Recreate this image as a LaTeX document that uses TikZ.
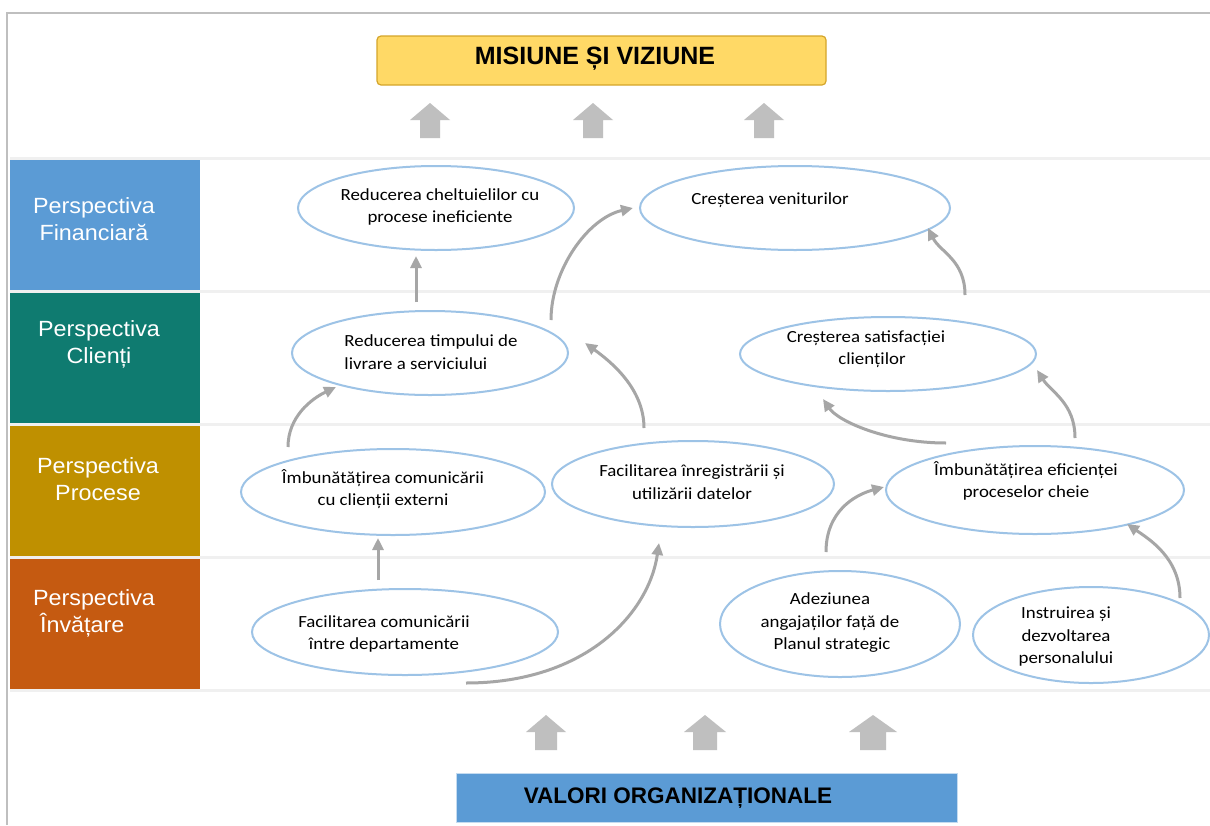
\documentclass[tikz,border=0pt]{standalone}
\usepackage{fontspec}
\setmainfont{Carlito}
\newfontfamily\goalfont[FakeStretch=1.11]{Carlito}
\newfontfamily\headfont{Liberation Sans}
\newfontfamily\sidefont[FakeStretch=1.06]{Liberation Sans}
\usetikzlibrary{arrows.meta,shapes.geometric,calc}

\definecolor{finblue}{HTML}{5B9BD5}
\definecolor{cliteal}{HTML}{0F7B70}
\definecolor{procgold}{HTML}{BF9000}
\definecolor{learnorange}{HTML}{C55A11}
\definecolor{ovalblue}{HTML}{9DC3E6}
\definecolor{linkgray}{HTML}{A6A6A6}
\definecolor{blockgray}{HTML}{BFBFBF}
\definecolor{rulegray}{HTML}{F0F0F0}
\definecolor{framegray}{HTML}{BFBFBF}
\definecolor{missionfill}{HTML}{FFD966}
\definecolor{missiondraw}{HTML}{D4A52A}

% upward block arrow: centre x, tip y, bottom y, half head width, half stem width
\newcommand\upblock[5]{%
  \fill[blockgray] (#1-#5,#3) -- (#1-#5,#2+17) -- (#1-#4,#2+17) -- (#1,#2)
    -- (#1+#4,#2+17) -- (#1+#5,#2+17) -- (#1+#5,#3) -- cycle;}

\begin{document}
\begin{tikzpicture}[x=1pt,y=-1pt,
  goal/.style={ellipse, draw=ovalblue, line width=2pt, inner sep=0pt, outer sep=0pt},
  goaltext/.style={font=\goalfont\fontsize{17}{22.5}\selectfont, align=center, inner sep=0pt},
  perspbox/.style={minimum width=190pt, minimum height=130pt, inner sep=0pt, outer sep=0pt},
  persptext/.style={text=white, font=\sidefont\fontsize{22}{27}\selectfont, align=center, inner sep=0pt},
  bannertext/.style={font=\headfont\bfseries\fontsize{25}{30}\selectfont, inner sep=0pt},
  link/.style={draw=linkgray, line width=3pt, -{Triangle[length=12pt,width=11pt]}},
  rowrule/.style={draw=rulegray, line width=3pt}
]
\useasboundingbox (0,0) rectangle (1210,825);
\fill[white] (0,0) rectangle (1210,825);

% frame
\draw[framegray, line width=2.5pt] (7,825) -- (7,13) -- (1210,13);

% row separators
\foreach \yy in {158,291,424,557,690}
  \draw[rowrule] (10,\yy) -- (1210,\yy);

% perspective column
\node[perspbox, fill=finblue]     (pfin)  at (105,225) {};
\node[perspbox, fill=cliteal]     (pcli)  at (105,358) {};
\node[perspbox, fill=procgold]    (pproc) at (105,491) {};
\node[perspbox, fill=learnorange] (plearn) at (105,624) {};
\node[persptext] (tfin)   at (94,219)  {Perspectiva\\Financiară};
\node[persptext] (tcli)   at (99,344)  {Perspectiva\\Clienți};
\node[persptext] (tproc)  at (98,479)  {Perspectiva\\Procese};
\node[persptext, align=left] (tlearn) at (94,613) {Perspectiva\\\hspace*{7pt}Învățare};

% mission banner
\node[draw=missiondraw, fill=missionfill, rounded corners=4pt, line width=1.2pt,
      minimum width=449pt, minimum height=49pt, inner sep=0pt] (mission) at (601.5,60.5) {};
\node[bannertext] (missiontext) at (595,59) {MISIUNE ȘI VIZIUNE};

% values banner
\node[draw=ovalblue!60, fill=finblue, line width=1pt,
      minimum width=501pt, minimum height=49pt, inner sep=0pt] (values) at (706.5,797.5) {};
\node[bannertext, font=\headfont\bfseries\fontsize{22.5}{27}\selectfont] (valuestext) at (678,798) {VALORI ORGANIZAȚIONALE};

% block arrows
\upblock{430}{103}{138}{20}{10}
\upblock{593}{103}{138}{20}{10}
\upblock{764}{103}{138}{20}{10}
\upblock{546}{715}{750}{20}{11}
\upblock{705}{715}{750}{21}{12}
\upblock{873}{715}{750}{24}{13}

% objectives
\node[goal, minimum width=276pt, minimum height=84pt] (e1)  at (436,208) {};
\node[goal, minimum width=310pt, minimum height=84pt] (e2)  at (795,208) {};
\node[goal, minimum width=276pt, minimum height=84pt] (e3)  at (430,353) {};
\node[goal, minimum width=296pt, minimum height=74pt] (e4)  at (888,354) {};
\node[goal, minimum width=304pt, minimum height=86pt] (e5)  at (393,492) {};
\node[goal, minimum width=282pt, minimum height=86pt] (e6)  at (693,484) {};
\node[goal, minimum width=298pt, minimum height=88pt] (e7)  at (1035,490) {};
\node[goal, minimum width=306pt, minimum height=86pt] (e8)  at (405,632) {};
\node[goal, minimum width=240pt, minimum height=106pt] (e9) at (840,624) {};
\node[goal, minimum width=236pt, minimum height=96pt] (e10) at (1091,635) {};

\node[goaltext] (t1)  at (440,207) {Reducerea cheltuielilor cu\\procese ineficiente};
\node[goaltext] (t2)  at (770,200) {Creșterea veniturilor};
\node[goaltext, align=left] (t3) at (431,352) {Reducerea timpului de\\livrare a serviciului};
\node[goaltext] (t4)  at (866,349) {Creșterea satisfacției\\\hspace*{12pt}clienților};
\node[goaltext] (t5)  at (383,489) {Îmbunătățirea comunicării\\cu clienții externi};
\node[goaltext] (t6)  at (692,482) {Facilitarea înregistrării și\\utilizării datelor};
\node[goaltext] (t7)  at (1026,481) {Îmbunătățirea eficienței\\proceselor cheie};
\node[goaltext] (t8)  at (384,634) {Facilitarea comunicării\\între departamente};
\node[goaltext] (t9)  at (830,623) {Adeziunea\\angajaților față de\\\hspace*{4pt}Planul strategic};
\node[goaltext] (t10) at (1066,637) {Instruirea și\\dezvoltarea\\personalului};

% cause-effect links
\draw[link] ($(e3.north)+(-14,-9)$) -- ($(e1.south)+(-20,6)$);
\draw[link] ($(e3.east)+(-17,-33)$) .. controls +(0,-50) and +(-45,10) .. ($(e2.west)+(-7,0)$);
\draw[link] ($(e4.north)+(77,-22)$) .. controls +(0,-35) and +(12,24) .. ($(e2.east)+(-22,20)$);
\draw[link] ($(e5.north)+(-105,-2)$) .. controls +(0,-30) and +(-25,12) .. ($(e3.south)+(-94,-8)$);
\draw[link] ($(e6.north)+(-49,-13)$) .. controls +(0,-40) and +(25,18) .. ($(e3.east)+(17,-10)$);
\draw[link] ($(e7.north)+(-89,-3)$) .. controls +(-60,0) and +(15,22) .. ($(e4.south)+(-65,8)$);
\draw[link] ($(e7.north)+(40,-8)$) .. controls +(0,-35) and +(14,22) .. ($(e4.east)+(1,16)$);
\draw[link] ($(e8.north)+(-27,-9)$) -- ($(e5.south)+(-15,3)$);
\draw[link] ($(e8.south)+(61,8)$) .. controls +(120,0) and +(-10,70) .. ($(e6.south)+(-34,16)$);
\draw[link] ($(e9.north)+(-14,-19)$) .. controls +(0,-40) and +(-30,8) .. ($(e7.west)+(-2,-3)$);
\draw[link] ($(e10.north)+(89,11)$) .. controls +(0,-40) and +(22,15) .. ($(e7.south)+(92,-10)$);
\end{tikzpicture}
\end{document}
